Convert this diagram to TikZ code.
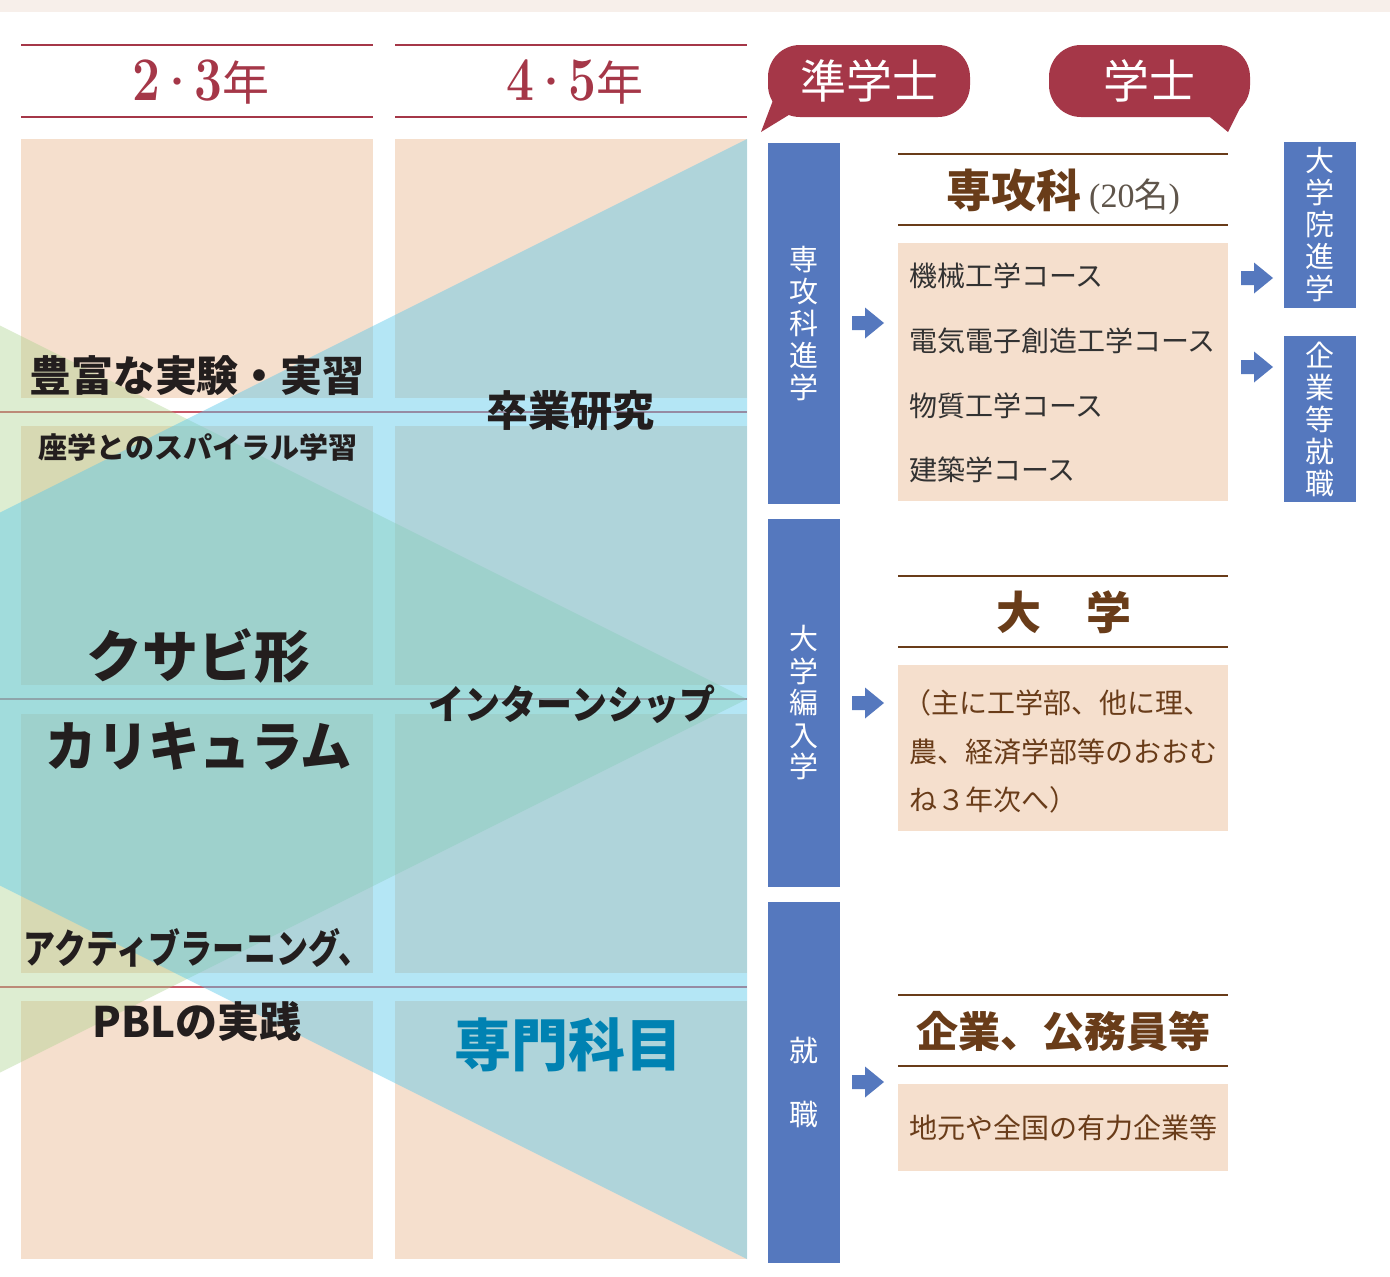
\documentclass[tikz,border=0pt]{standalone}
\usepackage{fontspec}
\setmainfont{Noto Sans CJK JP}
\newfontfamily\jp{Noto Sans CJK JP}
\newfontfamily\jpa{Noto Sans CJK JP}[FakeStretch=0.95]
\newfontfamily\jpn{Noto Sans CJK JP}[FakeStretch=0.9]
\newfontfamily\jpc{Noto Sans CJK JP}[FakeStretch=0.8]
\newfontfamily\digs{Latin Modern Roman}[FakeStretch=0.8]
\newfontfamily\serifn{Liberation Serif}
\definecolor{peach}{RGB}{245,223,205}
\definecolor{wine}{RGB}{165,55,72}
\definecolor{barblue}{RGB}{85,120,190}
\definecolor{ovblue}{RGB}{90,200,235}
\definecolor{ovgreen}{RGB}{170,210,140}
\definecolor{brownt}{RGB}{105,60,25}
\definecolor{topband}{RGB}{247,239,234}
\definecolor{darktext}{RGB}{35,30,30}
\definecolor{sblue}{RGB}{0,130,178}
\definecolor{gridline}{RGB}{200,90,105}
\definecolor{graytext}{RGB}{50,50,50}
\definecolor{paren}{RGB}{95,85,75}
\newcommand{\yrdig}[1]{{\digs\bfseries\fontsize{62}{62}\selectfont #1}}
\newcommand{\yrdot}{\raisebox{6pt}{\jp\fontsize{34}{36}\selectfont ・}}
\newcommand{\yrnen}{{\jp\fontsize{47}{50}\selectfont 年}}
\tikzset{
  lbl/.style={inner sep=0pt, text=darktext},
  bubble/.style={fill=wine, rounded corners=32pt, minimum width=202pt, minimum height=72pt, inner sep=0pt, text=white, font=\jp\fontsize{46}{50}\selectfont},
  bar/.style={fill=barblue, minimum width=72pt, inner sep=0pt, text=white, align=center, font=\jp\fontsize{29}{32}\selectfont},
  course/.style={anchor=west, inner sep=0pt, text=graytext, font=\jp\fontsize{28}{32}\selectfont},
  brtext/.style={anchor=west, inner sep=0pt, text=brownt, font=\jp\fontsize{28}{32}\selectfont},
  head/.style={inner sep=0pt, text=brownt, font=\jp\bfseries\fontsize{45}{50}\selectfont},
  yearhead/.style={inner sep=0pt, text=wine},
  blockarrow/.pic={\fill[barblue] (0,-7) -- (13,-7) -- (13,-15.5) -- (32,0) -- (13,15.5) -- (13,7) -- (0,7) -- cycle;}
}
\begin{document}
\begin{tikzpicture}[x=1pt,y=-1pt]
\useasboundingbox (0,0) rectangle (1390,1277);
\fill[white] (0,0) rectangle (1390,1277);
\fill[topband] (0,0) rectangle (1390,12);

% year headers
\foreach \x in {21,395} {
  \draw[wine, line width=2pt] (\x,45) -- (\x+352,45);
  \draw[wine, line width=2pt] (\x,117) -- (\x+352,117);
}
\node[yearhead] (y23) at (201,82) {\yrdig{2}\yrdot\yrdig{3}\yrnen};
\node[yearhead] (y45) at (575,82) {\yrdig{4}\yrdot\yrdig{5}\yrnen};

% peach grid
\foreach \x in {21,395} {
  \foreach \ya/\yb in {139/398,426/685,714/973,1001/1259} {
    \fill[peach] (\x,\ya) rectangle (\x+352,\yb);
  }
}
\foreach \y in {412,699,987} {
  \draw[gridline, line width=1.2pt] (0,\y) -- (747,\y);
}

% translucent wedges
\begin{scope}
  \clip (0,139) rectangle (747,1259);
  \fill[ovgreen, opacity=0.4] (747,699) -- (-10,320.5) -- (-10,1077.5) -- cycle;
  \fill[ovblue, opacity=0.45] (747,139) -- (747,1259) -- (-373,699) -- cycle;
\end{scope}

% left texts
\node[lbl, font=\jp\bfseries\fontsize{42}{46}\selectfont] (t1) at (197,376) {豊富な実験・実習};
\node[lbl, font=\jp\bfseries\fontsize{29}{33}\selectfont] (t2) at (198,447) {座学とのスパイラル学習};
\node[lbl, font=\jp\bfseries\fontsize{42}{46}\selectfont] (t3) at (570,411) {卒業研究};
\node[lbl, font=\jp\bfseries\fontsize{56}{60}\selectfont] (t4) at (198,656) {クサビ形};
\node[lbl, font=\jpa\bfseries\fontsize{54}{58}\selectfont] (t5) at (199,746) {カリキュラム};
\node[lbl, font=\jpn\bfseries\fontsize{40}{44}\selectfont] (t6) at (572,704) {インターンシップ};
\node[lbl, font=\jpc\bfseries\fontsize{40}{44}\selectfont] (t7) at (197,948) {アクティブラーニング、};
\node[lbl, font=\jp\bfseries\fontsize{42}{46}\selectfont] (t8) at (197,1022) {PBLの実践};
\node[lbl, text=sblue, font=\jp\bfseries\fontsize{57}{60}\selectfont] (t9) at (568,1045) {専門科目};

% bubbles
\node[bubble] (zgs) at (869,81) {準学士};
\fill[wine] (775,95) -- (761,132) -- (792,113) -- cycle;
\node[bubble, minimum width=201pt] (gs) at (1149.5,81) {学士};
\fill[wine] (1205,113) -- (1228,132) -- (1244,100) -- cycle;

% blue bars
\node[bar, minimum height=361pt] (b1) at (803.5,323.5) {専\\攻\\科\\進\\学};
\node[bar, minimum height=368pt] (b2) at (803.5,703) {大\\学\\編\\入\\学};
\node[bar, minimum height=361pt, font=\jp\fontsize{29}{64}\selectfont] (b3) at (803.5,1082.5) {就\\職};
\node[bar, minimum height=166pt] (r1) at (1320,225) {大\\学\\院\\進\\学};
\node[bar, minimum height=166pt] (r2) at (1320,419) {企\\業\\等\\就\\職};

% arrows
\pic at (852,323) {blockarrow};
\pic at (852,703) {blockarrow};
\pic at (852,1082) {blockarrow};
\pic at (1241,278) {blockarrow};
\pic at (1241,367) {blockarrow};

% right headers
\foreach \y in {154,225,576,647,995,1066} {
  \draw[brownt, line width=1.5pt] (898,\y) -- (1228,\y);
}
\node[head] (hs) at (1063,192) {専攻科\hspace{8pt}{\color{paren}\mdseries\fontsize{34}{38}\selectfont{\serifn (20}{\jp 名}{\serifn )}}};
\node[head] (hd) at (1064,612) {大　学};
\node[head, font=\jp\bfseries\fontsize{42}{46}\selectfont] (hk) at (1063,1031) {企業、公務員等};

% peach boxes right
\fill[peach] (898,243) rectangle (1228,501);
\fill[peach] (898,665) rectangle (1228,831);
\fill[peach] (898,1084) rectangle (1228,1171);

\node[course] (c1) at (909,276) {機械工学コース};
\node[course] (c2) at (909,341) {電気電子創造工学コース};
\node[course] (c3) at (909,406) {物質工学コース};
\node[course] (c4) at (909,470) {建築学コース};

\node[brtext] (u1) at (903,703) {（主に工学部、他に理、};
\node[brtext] (u2) at (909,752) {農、経済学部等のおおむ};
\node[brtext] (u3) at (909,800) {ね３年次へ）};

\node[brtext] (k1) at (909,1128) {地元や全国の有力企業等};
\end{tikzpicture}
\end{document}
